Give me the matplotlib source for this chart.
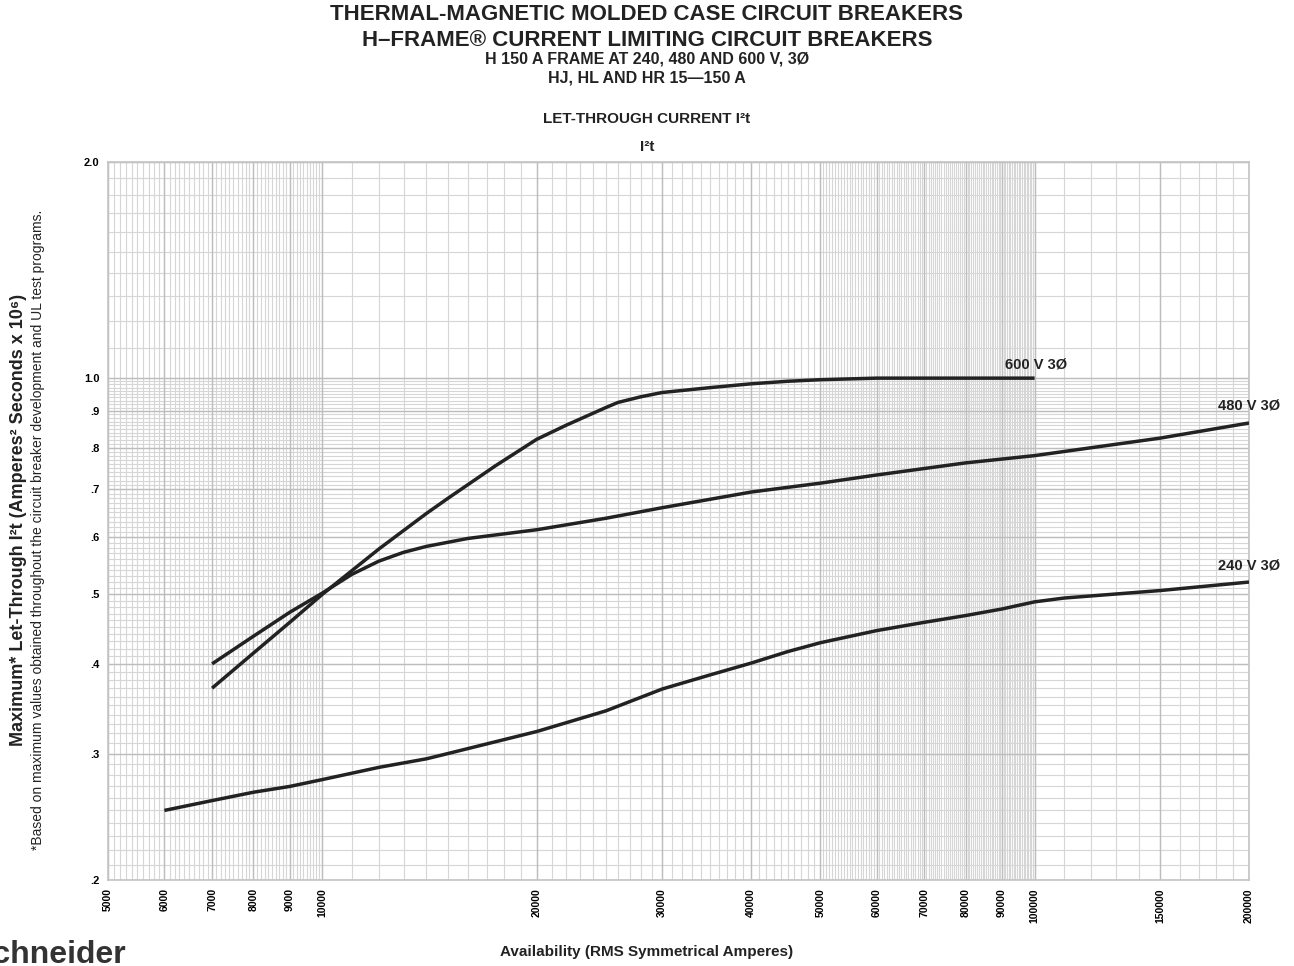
import matplotlib
matplotlib.use("Agg")
import matplotlib.pyplot as plt
import numpy as np
from matplotlib.ticker import FixedLocator, NullFormatter

plt.rcParams['font.family'] = ['Liberation Sans', 'DejaVu Sans']

# datos (amperes, I2t x 10^6)
x_600 = [7000, 8000, 9000, 10000, 12000, 14000, 15000, 17500, 20000, 22000, 25000, 26000, 28000, 30000, 35000, 40000, 45000, 50000, 60000, 100000]
y_600 = [0.370, 0.414, 0.457, 0.500, 0.578, 0.648, 0.680, 0.755, 0.822, 0.860, 0.910, 0.925, 0.942, 0.955, 0.970, 0.982, 0.990, 0.995, 1.0, 1.0]

x_480 = [7000, 8000, 9000, 10000, 11000, 12000, 13000, 14000, 16000, 20000, 25000, 30000, 40000, 50000, 60000, 80000, 100000, 150000, 200000]
y_480 = [0.400, 0.437, 0.472, 0.502, 0.533, 0.556, 0.572, 0.583, 0.598, 0.615, 0.638, 0.660, 0.694, 0.714, 0.733, 0.762, 0.780, 0.825, 0.866]

x_240 = [6000, 7000, 8000, 9000, 10000, 12000, 14000, 15000, 20000, 25000, 30000, 35000, 40000, 45000, 50000, 60000, 70000, 80000, 90000, 100000, 110000, 150000, 200000]
y_240 = [0.250, 0.258, 0.265, 0.270, 0.276, 0.287, 0.295, 0.300, 0.322, 0.344, 0.369, 0.386, 0.401, 0.416, 0.428, 0.445, 0.457, 0.467, 0.477, 0.488, 0.494, 0.506, 0.520]

xticks = [5000, 6000, 7000, 8000, 9000, 10000, 20000, 30000, 40000, 50000, 60000, 70000, 80000, 90000, 100000, 150000, 200000]
yticks = [0.2, 0.3, 0.4, 0.5, 0.6, 0.7, 0.8, 0.9, 1.0, 2.0]
ytick_labels = ['.2', '.3', '.4', '.5', '.6', '.7', '.8', '.9', '1.0', '2.0']

fig = plt.figure(figsize=(12.94, 9.66), dpi=100)
ax = fig.add_axes([108/1294, 1-880/966, (1249-108)/1294, (880-162)/966])
ax.set_xscale('log')
ax.set_yscale('log')
ax.set_xlim(5000, 200000)
ax.set_ylim(0.2, 2.0)

# cuadricula fina
xminor = list(np.arange(5000, 10000, 100)) + list(np.arange(10000, 50000, 1000)) + \
    list(np.arange(50000, 100000, 500)) + list(np.arange(100000, 200001, 10000))
yminor = list(np.arange(0.2, 1.0, 0.01)) + list(np.arange(1.0, 2.0001, 0.1))
xmajor = list(np.arange(5000, 10001, 1000)) + list(np.arange(20000, 100001, 10000)) + [150000, 200000]
ymajor = [0.2, 0.3, 0.4, 0.5, 0.6, 0.7, 0.8, 0.9, 1.0, 2.0]

for v in xminor:
    ax.axvline(v, color='#d6d6d6', lw=0.8, zorder=1)
for v in yminor:
    ax.axhline(v, color='#d6d6d6', lw=0.8, zorder=1)
for v in xmajor:
    ax.axvline(v, color='#bdbdbd', lw=1.0, zorder=1)
for v in ymajor:
    ax.axhline(v, color='#bdbdbd', lw=1.0, zorder=1)

ax.xaxis.set_major_locator(FixedLocator(xticks))
ax.xaxis.set_minor_locator(FixedLocator([]))
ax.yaxis.set_major_locator(FixedLocator(yticks))
ax.yaxis.set_minor_locator(FixedLocator([]))
ax.xaxis.set_minor_formatter(NullFormatter())
ax.yaxis.set_minor_formatter(NullFormatter())
ax.set_xticklabels([str(t) for t in xticks], rotation=90, fontsize=7.5, fontweight='bold')
ax.set_yticklabels(ytick_labels, fontsize=8, fontweight='bold')
ax.tick_params(length=0, pad=6)
for s in ax.spines.values():
    s.set_color('#c4c4c4')
    s.set_linewidth(1.2)

# curvas
ax.plot(x_600, y_600, color='#222222', lw=2.5, zorder=3, solid_capstyle='butt')
ax.plot(x_480, y_480, color='#222222', lw=2.5, zorder=3, solid_capstyle='butt')
ax.plot(x_240, y_240, color='#222222', lw=2.5, zorder=3, solid_capstyle='butt')

ax.text(90900, 1.046, '600 V 3Ø', fontsize=10.5, fontweight='bold', ha='left', va='center', clip_on=False, color='#222222')
ax.text(181000, 0.915, '480 V 3Ø', fontsize=10.5, fontweight='bold', ha='left', va='center', clip_on=False, color='#222222')
ax.text(181000, 0.5475, '240 V 3Ø', fontsize=10.5, fontweight='bold', ha='left', va='center', clip_on=False, color='#222222')

# titulos
fig.text(0.5, 1-15/966, 'THERMAL-MAGNETIC MOLDED CASE CIRCUIT BREAKERS', ha='center', va='center', fontsize=16, fontweight='bold', color='#222222')
fig.text(0.5, 1-40/966, 'H–FRAME® CURRENT LIMITING CIRCUIT BREAKERS', ha='center', va='center', fontsize=16, fontweight='bold', color='#222222')
fig.text(0.5, 1-59/966, 'H 150 A FRAME AT 240, 480 AND 600 V, 3Ø', ha='center', va='center', fontsize=11.5, fontweight='bold', color='#222222')
fig.text(0.5, 1-78/966, 'HJ, HL AND HR 15—150 A', ha='center', va='center', fontsize=11.5, fontweight='bold', color='#222222')
fig.text(0.5, 1-119/966, 'LET-THROUGH CURRENT I²t', ha='center', va='center', fontsize=11, fontweight='bold', color='#222222')
fig.text(0.5, 1-147/966, 'I²t', ha='center', va='center', fontsize=11, fontweight='bold', color='#222222')

fig.text(19/1294, 1-520/966, 'Maximum* Let-Through I²t (Amperes² Seconds x 10⁶)', rotation=90, ha='center', va='center', fontsize=13, fontweight='bold', color='#222222')
fig.text(38/1294, 1-530/966, '*Based on maximum values obtained throughout the circuit breaker development and UL test programs.', rotation=90, ha='center', va='center', fontsize=10, color='#222222')

fig.text(0.5, 1-952/966, 'Availability (RMS Symmetrical Amperes)', ha='center', va='center', fontsize=11, fontweight='bold', color='#222222')

# logo recortado
fig.text(126/1294, 1-955/966, 'Schneider', ha='right', va='center', fontsize=23, fontweight='bold', color='#333333')

fig.savefig('out.png', dpi=100)
